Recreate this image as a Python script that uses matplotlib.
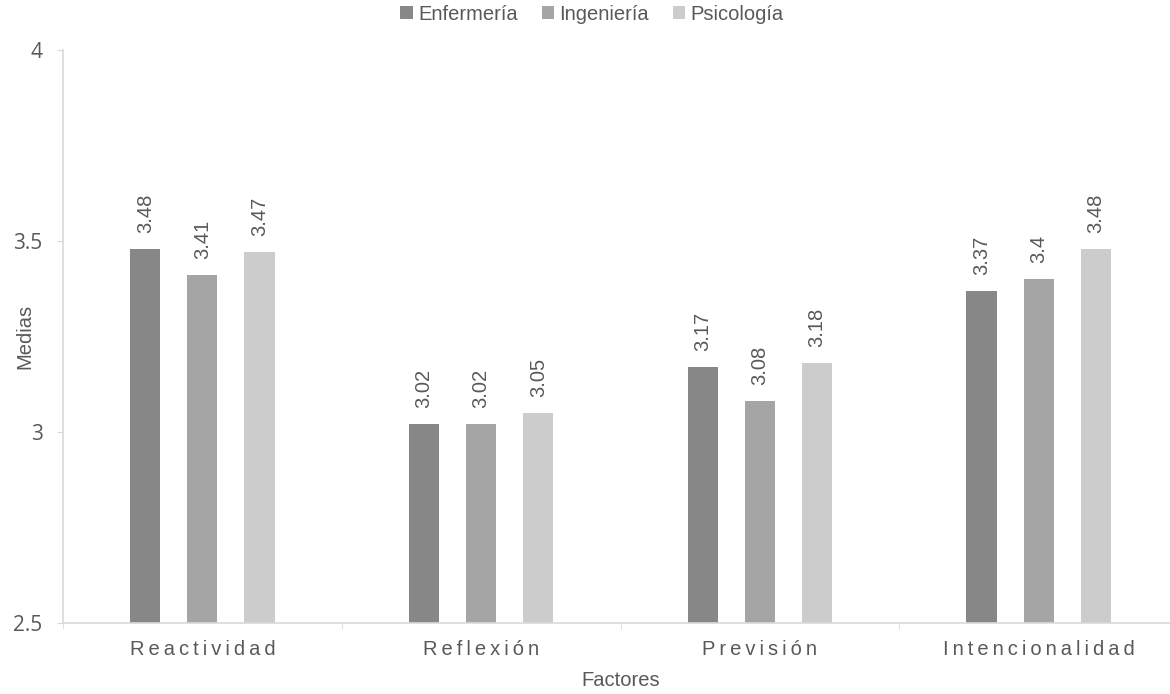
import matplotlib
matplotlib.use("Agg")
import matplotlib.pyplot as plt
import numpy as np

# datos
factores = ["Reactividad", "Reflexión", "Previsión", "Intencionalidad"]
carreras = ["Enfermería", "Ingeniería", "Psicología"]
enfermeria = [3.48, 3.02, 3.17, 3.37]
ingenieria = [3.41, 3.02, 3.08, 3.40]
psicologia = [3.47, 3.05, 3.18, 3.48]
colores = ["#878787", "#a5a5a5", "#cccccc"]

plt.rcParams["font.family"] = ["Liberation Sans", "DejaVu Sans"]
texto = "#595959"
eje = "#d9d9d9"

fig = plt.figure(figsize=(11.7, 6.94), dpi=100)
# el eje x continúa más allá del borde derecho de la imagen
ax = fig.add_axes([63 / 1170, 71 / 694, 1 - 63 / 1170, 573 / 694])

x = np.arange(len(factores))
ancho = 0.108
desp = 0.205
series = [enfermeria, ingenieria, psicologia]
for i, (nombre, vals, c) in enumerate(zip(carreras, series, colores)):
    pos = x + (i - 1) * desp
    ax.bar(pos, [v - 2.5 for v in vals], bottom=2.5, width=ancho,
           color=c, label=nombre)
    for p, v in zip(pos, vals):
        ax.annotate(f"{v:g}", (p, v), xytext=(0, 11.5), textcoords="offset points",
                    rotation=90, ha="center", va="bottom", fontsize=14.5,
                    color=texto)

ax.set_ylim(2.5, 4)
ax.set_xlim(-0.5, 3.5 - 8 / 278)
ax.set_yticks([2.5, 3, 3.5, 4])
ax.set_yticklabels(["2.5", "3", "3.5", "4"], family=["Open Sans", "DejaVu Sans"],
                   fontsize=15, color=texto)

# etiquetas espaciadas como en el original
esp = "\u2009"
ax.set_xticks(x)
ax.set_xticklabels([esp.join(f) for f in factores], fontsize=14.5, color=texto)
ax.set_xticks(np.arange(-0.5, 3.5, 1), minor=True)
ax.tick_params(axis="x", which="major", length=0, pad=12)
ax.tick_params(axis="x", which="minor", length=4.3, color=eje, direction="out")
ax.tick_params(axis="y", length=4.3, color=eje, pad=10.5)

for s in ["top", "right"]:
    ax.spines[s].set_visible(False)
ax.spines["left"].set_color(eje)
ax.spines["bottom"].set_color(eje)
ax.spines["left"].set_linewidth(1.2)
ax.spines["bottom"].set_linewidth(1.2)

fig.text(25 / 1170, 1 - 336 / 694, "Medias", rotation=90, ha="center",
         va="center", fontsize=14.5, color=texto)
fig.text(621 / 1170, 1 - 680 / 694, "Factores", ha="center", va="center",
         fontsize=14.5, color=texto)

fig.legend(*ax.get_legend_handles_labels(), loc="center",
           bbox_to_anchor=(592 / 1170, 1 - 14 / 694), ncol=3, frameon=False,
           fontsize=14.5, handlelength=0.62, handleheight=0.62,
           handletextpad=0.25, columnspacing=1.2, labelcolor=texto,
           borderpad=0)

fig.savefig("out.png", dpi=100)
